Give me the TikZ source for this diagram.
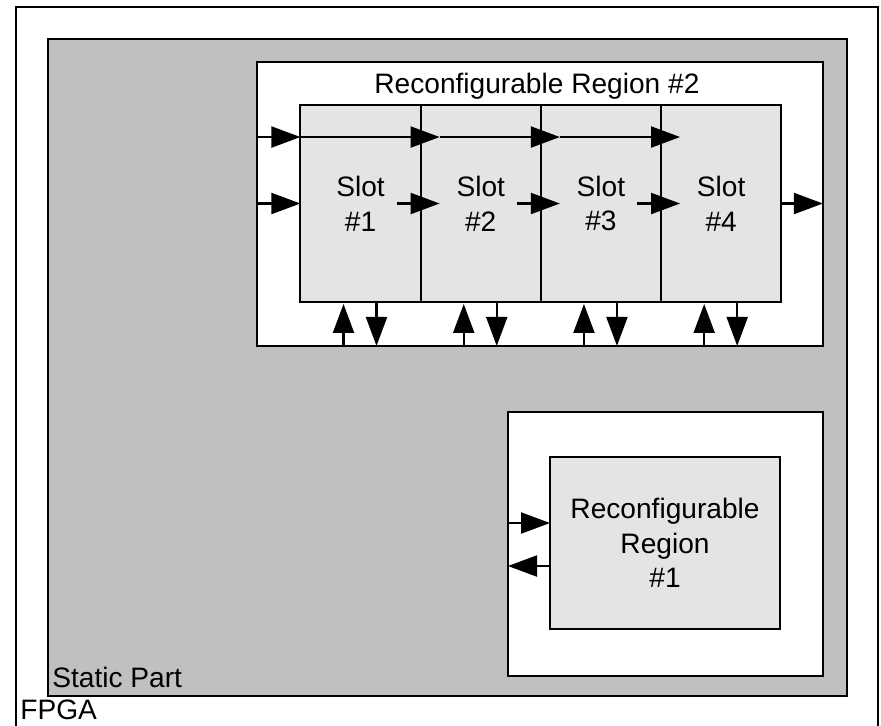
\documentclass[tikz,border=0pt]{standalone}
\usepackage{fontspec}
\setmainfont{Liberation Sans}
\usetikzlibrary{positioning,calc,arrows.meta}
\definecolor{staticgray}{RGB}{192,192,192}
\definecolor{slotgray}{RGB}{228,228,228}
\tikzset{box/.style={draw, line width=1.2pt, inner sep=0pt, outer sep=0pt}}
\tikzset{S/.style={box, fill=slotgray, minimum width=2.405cm, minimum height=3.94cm, align=center}}
\tikzset{sig/.style={line width=1.2pt, -{Triangle[length=5.8mm,width=4.2mm]}}}
\tikzset{lbl/.style={inner sep=0pt}}

\begin{document}
\begin{tikzpicture}[x=0.02cm, y=-0.02cm, font=\fontsize{16}{19.8}\selectfont]
            \useasboundingbox (0,0) rectangle (881,725);
            \clip (0,0) rectangle (881,725);
            % boxes
            \node[box, line width=1.5pt, minimum width=17.24cm, minimum height=15cm, anchor=north west] (fpga) at (16,7) {};
            \node[box, fill=staticgray, minimum width=15.98cm, minimum height=13.14cm, anchor=north west] (static) at (48,39) {};
            \node[box, fill=white, minimum width=11.32cm, minimum height=5.68cm, anchor=north west] (rr2) at (257,62) {};
            \node[S] (s1) at (360.5,203.5) {Slot\\\#1};
            \node[S, right=0pt of s1] (s2) {Slot\\\#2};
            \node[S, right=0pt of s2] (s3) {Slot\\\#3};
            \node[S, right=0pt of s3] (s4) {Slot\\\#4};
            \node[box, fill=white, minimum width=6.3cm, minimum height=5.28cm, anchor=north west] (rr1box) at (508,412) {};
            \node[S, minimum width=4.6cm, minimum height=3.44cm] (rr1) at (665,543) {Reconfigurable\\Region\\\#1};
            % labels
            \node[lbl, anchor=base] (rr2label) at ($(rr2.north)+(-3,31)$) {Reconfigurable Region \#2};
            \node[lbl, anchor=base west] (staticlabel) at (52,687) {Static Part};
            \node[lbl, anchor=base west] (fpgalabel) at (20,719) {FPGA};
            % signals of region 2
            \coordinate (in1) at ($(s1.north west)+(0,32)$);
            \draw[sig] (in1 -| rr2.west) -- (in1);
            \draw[sig] (in1) -- ($(in1 -| s2.west)+(19,0)$);
            \draw[sig] ($(in1 -| s2.west)+(19,0)$) -- ($(in1 -| s3.west)+(19,0)$);
            \draw[sig] ($(in1 -| s3.west)+(19,0)$) -- ($(in1 -| s4.west)+(19,0)$);
            \draw[sig] (s1.west -| rr2.west) -- (s1.west);
            \foreach \a/\b in {1/2,2/3,3/4}
                \draw[sig] ($(s\a.east)+(-24,0)$) -- ($(s\b.west)+(19,0)$);
            \draw[sig] (s4.east) -- (s4.east -| rr2.east);
            \foreach \i in {1,...,4}{
                \draw[sig] ($(s\i.south |- rr2.south)+(-17,0)$) -- ($(s\i.south)+(-17,2)$);
                \draw[sig] ($(s\i.south)+(16,0)$) -- ($(s\i.south |- rr2.south)+(16,0)$);
            }
            % signals of region 1
            \draw[sig] ($(rr1.west -| rr1box.west)+(0,-20)$) -- ($(rr1.west)+(0,-20)$);
            \draw[sig] ($(rr1.west)+(0,23)$) -- ($(rr1.west -| rr1box.west)+(0,23)$);
\end{tikzpicture}
\end{document}
